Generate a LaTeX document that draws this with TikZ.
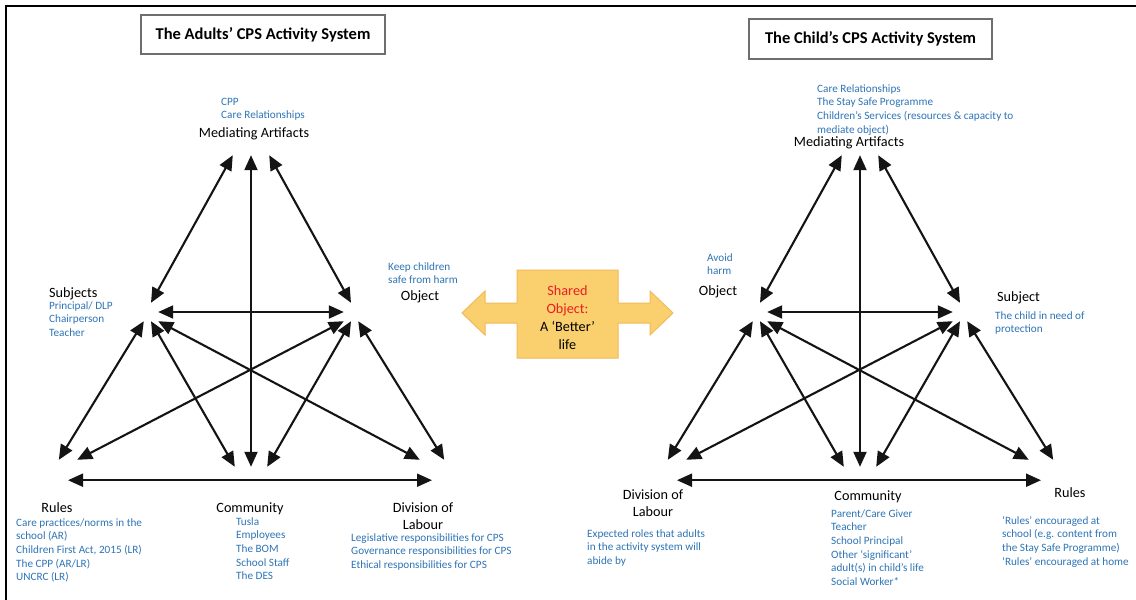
\documentclass[tikz,border=0pt]{standalone}
\usepackage{fontspec}
\setmainfont{Carlito}
\usetikzlibrary{arrows.meta}

\definecolor{noteblue}{RGB}{46,117,182}
\definecolor{sharedred}{RGB}{235,30,35}
\definecolor{calloutfill}{RGB}{250,207,110}
\definecolor{calloutedge}{RGB}{243,186,92}
\definecolor{boxgray}{RGB}{110,110,110}
\definecolor{inkblack}{RGB}{20,20,20}

% stacked lines whose baseline is the first line's baseline
\newcommand{\ltab}[1]{\vtop{\halign{##\hfil\cr#1\crcr}}}
\newcommand{\ctab}[1]{\vtop{\halign{\hfil##\hfil\cr#1\crcr}}}

\tikzset{
  vtx/.style={rectangle, inner sep=0pt, draw=none},
  link/.style={line width=2.1pt, draw=inkblack,
    arrows={Triangle[length=15pt,width=13pt]-Triangle[length=15pt,width=13pt]}},
  lab/.style={inner sep=0pt, text=black, font=\fontsize{14.2}{17}\selectfont},
  note/.style={inner sep=0pt, text=noteblue, font=\fontsize{11.2}{13.7}\selectfont},
  titlebox/.style={draw=boxgray, line width=1.2pt, inner sep=0pt,
    font=\bfseries\fontsize{16.5}{20}\selectfont},
}

% the six corners of one activity system and the links between them
\newcommand{\activitytriangle}[1]{%
  \node[vtx, minimum width=36pt, minimum height=16pt] (#1top) at (251,147) {};
  \node[vtx, minimum width=14pt, minimum height=18pt] (#1ml)  at (151,312) {};
  \node[vtx, minimum width=14pt, minimum height=18pt] (#1mr)  at (351,312) {};
  \node[vtx, minimum width=18pt, minimum height=20pt] (#1bl)  at (68,470) {};
  \node[vtx, minimum width=32pt, minimum height=14pt] (#1bc)  at (251,474) {};
  \node[vtx, minimum width=24pt, minimum height=20pt] (#1br)  at (432,470) {};
  \draw[link] (#1top.south west) -- (#1ml.north);
  \draw[link] (#1top.south) -- (#1bc.north);
  \draw[link] (#1top.south east) -- (#1mr.north);
  \draw[link] (#1ml.east) -- (#1mr.west);
  \draw[link] (#1ml.south west) -- (#1bl.north west);
  \draw[link] (#1ml.south) -- (#1bc.north west);
  \draw[link] (#1ml.south east) -- (#1br.north west);
  \draw[link] (#1mr.south west) -- (#1bl.north east);
  \draw[link] (#1mr.south) -- (#1bc.north east);
  \draw[link] (#1mr.south east) -- (#1br.north east);
  \draw[link] (#1bl.south) -- (#1br.south);
}

\begin{document}
\begin{tikzpicture}[x=1pt, y=-1pt]
\useasboundingbox (0,0) rectangle (1136,600);
\clip (0,0) rectangle (1136,600);
\fill[white] (0,0) rectangle (1136,600);

% outer frame
\draw[line width=2pt, black] (6,6) rectangle (1150,615);

% ---------- adults' system ----------
\node[titlebox, minimum width=244pt, minimum height=39pt] (adultTitle) at (263,34.5)
  {The Adults’ CPS Activity System};
\activitytriangle{a}

\node[note, anchor=base west] (aMnote) at (221,105) {\ltab{CPP\cr Care Relationships}};
\node[lab, anchor=base] (aMlab) at (254,137) {Mediating Artifacts};
\node[lab, anchor=base west] (aSlab) at (49,297) {Subjects};
\node[note, anchor=base west] (aSnote) at (49,309) {\ltab{Principal/ DLP\cr Chairperson\cr Teacher}};
\node[note, anchor=base west] (aOnote) at (388,270) {\ltab{Keep children\cr safe from harm}};
\node[lab, anchor=base] (aOlab) at (420,300) {Object};
\node[lab, anchor=base] (aRlab) at (57,512) {Rules};
\node[note, anchor=base west] (aRnote) at (16,526)
  {\ltab{Care practices/norms in the\cr school (AR)\cr Children First Act, 2015 (LR)\cr The CPP (AR/LR)\cr UNCRC (LR)}};
\node[lab, anchor=base] (aClab) at (250,512) {Community};
\node[note, anchor=base west] (aCnote) at (236,525)
  {\ltab{Tusla\cr Employees\cr The BOM\cr School Staff\cr The DES}};
\node[lab, anchor=base] (aDlab) at (423,512) {\ctab{Division of\cr Labour}};
\node[note, anchor=base west] (aDnote) at (351,541)
  {\ltab{Legislative responsibilities for CPS\cr Governance responsibilities for CPS\cr Ethical responsibilities for CPS}};

% ---------- shared object ----------
\draw[calloutedge, fill=calloutfill, line width=1pt]
  (517,270) -- (618,270) -- (618,303) -- (650,303) -- (650,291) -- (673,313)
  -- (650,335) -- (650,323) -- (618,323) -- (618,358) -- (517,358) -- (517,323)
  -- (485,323) -- (485,335) -- (462,313) -- (485,291) -- (485,303) -- (517,303) -- cycle;
\node[inner sep=0pt, anchor=base, font=\fontsize{14.2}{18}\selectfont] (shared) at (567.5,295)
  {\ctab{\textcolor{sharedred}{Shared}\cr \textcolor{sharedred}{Object:}\cr A ‘Better’\cr life}};

% ---------- child's system ----------
\node[titlebox, minimum width=243pt, minimum height=40pt] (childTitle) at (870.5,39)
  {The Child’s CPS Activity System};
\begin{scope}[xshift=609pt]
  \activitytriangle{c}
\end{scope}

\node[note, anchor=base west] (cMnote) at (817,92)
  {\ltab{Care Relationships\cr The Stay Safe Programme\cr Children’s Services (resources \& capacity to\cr mediate object)}};
\node[lab, anchor=base] (cMlab) at (849,146) {Mediating Artifacts};
\node[note, anchor=base west] (cOnote) at (707,261) {\ltab{Avoid\cr harm}};
\node[lab, anchor=base] (cOlab) at (718,295) {Object};
\node[lab, anchor=base west] (cSlab) at (997,301) {Subject};
\node[note, anchor=base west] (cSnote) at (995,319) {\ltab{The child in need of\cr protection}};
\node[lab, anchor=base] (cDlab) at (653,499) {\ctab{Division of\cr Labour}};
\node[note, anchor=base west] (cDnote) at (587,537)
  {\ltab{Expected roles that adults\cr in the activity system will\cr abide by}};
\node[lab, anchor=base] (cClab) at (868,500) {Community};
\node[note, anchor=base west] (cCnote) at (831,517)
  {\ltab{Parent/Care Giver\cr Teacher\cr School Principal\cr Other ‘significant’\cr adult(s) in child’s life\cr Social Worker*}};
\node[lab, anchor=base] (cRlab) at (1070,497) {Rules};
\node[note, anchor=base west] (cRnote) at (1002,524)
  {\ltab{‘Rules’ encouraged at\cr school (e.g. content from\cr the Stay Safe Programme)\cr ‘Rules’ encouraged at home}};
\end{tikzpicture}
\end{document}
